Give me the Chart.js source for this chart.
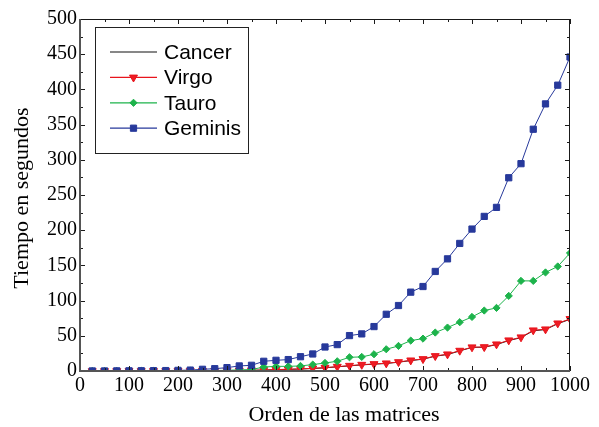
<!DOCTYPE html>
<html>
<head>
<meta charset="utf-8">
<script src="https://cdn.jsdelivr.net/npm/chart.js@4.4.1/dist/chart.umd.min.js"></script>
<style>
  html, body { margin: 0; padding: 0; background: #ffffff; }
  #wrap { width: 599px; height: 427px; position: relative; }
</style>
</head>
<body>
<div id="wrap"><canvas id="chart"></canvas></div>
<script>
// Matrix orders (x) and run times in seconds for each algorithm
const matrixOrders = [25, 50, 75, 100, 125, 150, 175, 200, 225, 250,
  275, 300, 325, 350, 375, 400, 425, 450, 475, 500,
  525, 550, 575, 600, 625, 650, 675, 700, 725, 750,
  775, 800, 825, 850, 875, 900, 925, 950, 975, 1000];

const cancerTimes = [0, 0, 0, 0, 0.1, 0.1, 0.1, 0.1, 0.2, 0.2,
  0.3, 0.4, 0.6, 0.9, 1.3, 1.8, 2.3, 2.8, 3.5, 4.5,
  5.9, 7.3, 8.7, 9.7, 10.7, 12.5, 14.8, 16.8, 21, 23.4,
  28.5, 33.6, 33.8, 37.5, 43.2, 47.4, 57.2, 58.8, 67.2, 73.4];

const virgoTimes = [0, 0, 0, 0.1, 0.1, 0.1, 0.1, 0.2, 0.2, 0.3,
  0.4, 0.5, 0.7, 1, 1.5, 2, 2.5, 3, 3.8, 4.8,
  6.2, 7.6, 9, 10, 11, 12.8, 15.2, 17.1, 21.4, 23.8,
  29, 33.8, 34.1, 38, 43.7, 48, 57.9, 59.3, 67.8, 74];

const tauroTimes = [0, 0, 0, 0.1, 0.1, 0.1, 0.2, 0.2, 0.3, 0.5,
  0.7, 1, 1.5, 2, 5.7, 6.6, 6.6, 7.2, 9.1, 11.4,
  13.8, 19.5, 20, 23.8, 30.9, 35.6, 43.2, 46, 54.6, 61.7,
  69.3, 76.8, 85.9, 89.6, 106.7, 128, 128, 140, 148.5, 167.5];

const geminisTimes = [0.1, 0.1, 0.2, 0.3, 0.4, 0.5, 0.6, 0.9, 1.3, 2.4,
  3.3, 4.8, 7.2, 8.1, 13.8, 15.2, 16.2, 20.3, 24.2, 34.1,
  37.5, 50.3, 52.7, 63.1, 80.6, 93, 112, 120, 141.4, 159.3,
  181.2, 201.6, 219.6, 232.4, 274.5, 294.5, 343.4, 379.4, 406, 446];

const seriesNames = ['Cancer', 'Virgo', 'Tauro', 'Geminis'];
const xTitle = 'Orden de las matrices';
const yTitle = 'Tiempo en segundos';

const toPoints = (ys) => matrixOrders.map((x, i) => ({ x: x, y: ys[i] }));

const SERIF = '"Liberation Serif", "Times New Roman", serif';
const SANS = '"Liberation Sans", Arial, sans-serif';

// Box frame with inward major/minor ticks, axis titles and an inset legend
const framePlugin = {
  id: 'frame',
  afterDatasetsDraw(chart) {
    const { ctx, chartArea: a, scales } = chart;
    const xs = scales.x, ys = scales.y;
    ctx.save();
    ctx.strokeStyle = '#1a1a1a';
    ctx.lineWidth = 1;
    ctx.strokeRect(a.left + 0.5, a.top + 0.5, a.right - a.left - 1, a.bottom - a.top);
    for (let v = 0; v <= 1000; v += 50) {
      const px = Math.round(xs.getPixelForValue(v)) + 0.5;
      const len = v % 100 === 0 ? 5 : 3;
      ctx.beginPath();
      ctx.moveTo(px, a.bottom); ctx.lineTo(px, a.bottom - len);
      ctx.moveTo(px, a.top); ctx.lineTo(px, a.top + len);
      ctx.stroke();
    }
    for (let v = 0; v <= 500; v += 25) {
      const py = Math.round(ys.getPixelForValue(v)) + 0.5;
      const len = v % 50 === 0 ? 5 : 3;
      ctx.beginPath();
      ctx.moveTo(a.left, py); ctx.lineTo(a.left + len, py);
      ctx.moveTo(a.right, py); ctx.lineTo(a.right - len, py);
      ctx.stroke();
    }
    // left and bottom axes drawn a bit heavier
    ctx.strokeStyle = '#555';
    ctx.lineWidth = 2;
    ctx.beginPath();
    ctx.moveTo(a.left, a.top); ctx.lineTo(a.left, a.bottom);
    ctx.lineTo(a.right, a.bottom);
    ctx.stroke();

    // axis titles
    ctx.fillStyle = '#000';
    ctx.font = '22px ' + SERIF;
    ctx.textAlign = 'center';
    ctx.textBaseline = 'middle';
    ctx.fillText(xTitle, (a.left + a.right) / 2 + 19, 415);
    ctx.save();
    ctx.translate(22, (a.top + a.bottom) / 2 + 3);
    ctx.rotate(-Math.PI / 2);
    ctx.fillText(yTitle, 0, 0);
    ctx.restore();

    // legend
    const lx = a.left + 15, ly = a.top + 8, lw = 153, lh = 126;
    ctx.fillStyle = '#fff';
    ctx.fillRect(lx, ly, lw, lh);
    ctx.strokeStyle = '#222';
    ctx.lineWidth = 1;
    ctx.strokeRect(lx + 0.5, ly + 0.5, lw, lh);
    ctx.font = '21px ' + SANS;
    ctx.textAlign = 'left';
    ctx.textBaseline = 'middle';
    chart.data.datasets.forEach((ds, i) => {
      const cy = ly + 25 + i * 25.4;
      const x0 = lx + 15, x1 = lx + 62;
      ctx.strokeStyle = ds.borderColor;
      ctx.lineWidth = 1.2;
      ctx.beginPath();
      ctx.moveTo(x0, cy); ctx.lineTo(x1, cy);
      ctx.stroke();
      if (ds.pointRadius > 0) {
        ctx.fillStyle = ds.backgroundColor;
        ctx.strokeStyle = ds.borderColor;
        ctx.lineWidth = 1;
        Chart.helpers.drawPoint(ctx, {
          pointStyle: ds.pointStyle,
          rotation: ds.pointRotation || 0,
          radius: ds.pointRadius,
          borderWidth: 1
        }, (x0 + x1) / 2, cy);
      }
      ctx.fillStyle = '#000';
      ctx.fillText(ds.label, lx + 69, cy + 1);
    });
    ctx.restore();
  }
};

new Chart(document.getElementById('chart'), {
  type: 'line',
  data: {
    datasets: [
      {
        label: seriesNames[0], data: toPoints(cancerTimes),
        borderColor: '#111111', backgroundColor: '#111111',
        borderWidth: 1, pointRadius: 0, order: 4
      },
      {
        label: seriesNames[1], data: toPoints(virgoTimes),
        borderColor: '#e8141c', backgroundColor: '#ee1c24',
        borderWidth: 1, pointStyle: 'triangle', pointRotation: 180,
        pointRadius: 4.6, pointBorderWidth: 1, order: 3
      },
      {
        label: seriesNames[2], data: toPoints(tauroTimes),
        borderColor: '#1db34b', backgroundColor: '#1db34b',
        borderWidth: 1, pointStyle: 'rectRot',
        pointRadius: 3.6, pointBorderWidth: 1, order: 2
      },
      {
        label: seriesNames[3], data: toPoints(geminisTimes),
        borderColor: '#27399b', backgroundColor: '#27399b',
        borderWidth: 1, pointStyle: 'rect',
        pointRadius: 4.4, pointBorderWidth: 1, order: 1
      }
    ]
  },
  options: {
    responsive: true,
    maintainAspectRatio: false,
    animation: false,
    layout: { padding: { top: 19, right: 29, left: 0, bottom: 0 } },
    plugins: { legend: { display: false }, tooltip: { enabled: false } },
    elements: { line: { tension: 0 } },
    scales: {
      x: {
        type: 'linear', min: 0, max: 1000,
        grid: { display: false, drawTicks: false },
        border: { display: false },
        ticks: {
          stepSize: 100, color: '#000', padding: 3,
          minRotation: 0, maxRotation: 0, autoSkip: false,
          font: { family: SERIF, size: 20 },
          callback: (v) => String(v)
        },
        afterFit: (s) => { s.height = 56; }
      },
      y: {
        type: 'linear', min: 0, max: 500,
        grid: { display: false, drawTicks: false },
        border: { display: false },
        ticks: {
          stepSize: 50, color: '#000', padding: 3,
          font: { family: SERIF, size: 20 },
          callback: (v) => String(v)
        },
        afterFit: (s) => { s.width = 80; }
      }
    }
  },
  plugins: [framePlugin]
});
</script>
</body>
</html>
